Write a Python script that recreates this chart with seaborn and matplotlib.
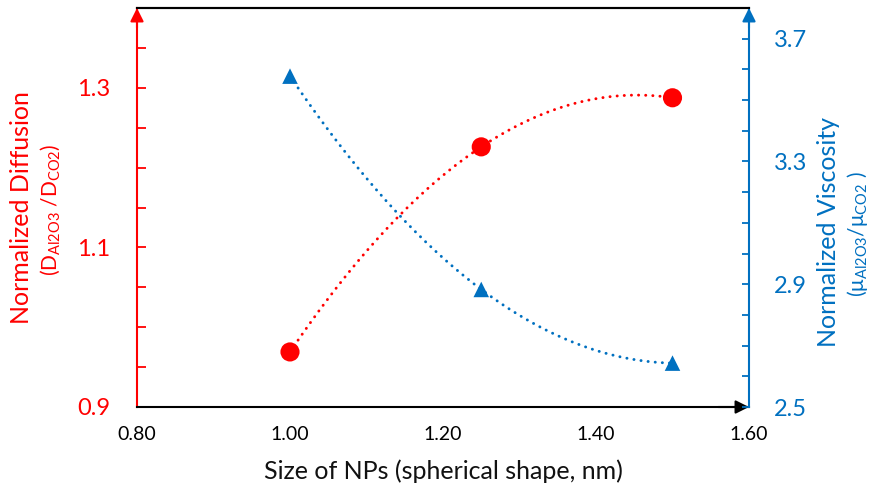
import numpy as np
import pandas as pd
import matplotlib
matplotlib.use("Agg")
import matplotlib.pyplot as plt
from matplotlib.ticker import FixedLocator, MultipleLocator
import seaborn as sns

# ---- data ----
size_nm = [1.00, 1.25, 1.50]
diffusion = [0.969, 1.226, 1.2875]
viscosity = [3.578, 2.883, 2.643]

x_ticks = [0.80, 1.00, 1.20, 1.40, 1.60]
left_ticks = [0.9, 1.1, 1.3]
right_ticks = [2.5, 2.9, 3.3, 3.7]

RED = "#FF0000"
BLUE = "#0070C0"

sns.set_theme(style="white")
plt.rcParams["font.family"] = ["Lato", "DejaVu Sans"]
plt.rcParams["mathtext.fontset"] = "custom"
plt.rcParams["mathtext.rm"] = "Lato"
plt.rcParams["mathtext.it"] = "Lato"
plt.rcParams["mathtext.bf"] = "Lato"


def smooth_curve(x, y, n=80):
    """Excel-like smoothed line: cubic Bezier segments (Catmull-Rom tangents)."""
    P = np.column_stack([x, y]).astype(float)
    first = 3 * P[0] - 3 * P[1] + P[2]
    last = 3 * P[-1] - 3 * P[-2] + P[-3]
    Q = np.vstack([first, P, last])
    t = np.linspace(0, 1, n)[:, None]
    segs = []
    for i in range(1, len(Q) - 2):
        p0, p1, p2, p3 = Q[i - 1], Q[i], Q[i + 1], Q[i + 2]
        c1 = p1 + (p2 - p0) / 6
        c2 = p2 - (p3 - p1) / 6
        b = ((1 - t) ** 3) * p1 + 3 * ((1 - t) ** 2) * t * c1 + 3 * (1 - t) * t ** 2 * c2 + t ** 3 * p2
        segs.append(b if i == 1 else b[1:])
    S = np.vstack(segs)
    return pd.DataFrame({"x": S[:, 0], "y": S[:, 1]})


fig = plt.figure(figsize=(8.72, 4.91), dpi=100)
ax = fig.add_axes([137 / 872, 1 - 407 / 491, 612 / 872, 399 / 491])
ax2 = ax.twinx()

dfd = smooth_curve(size_nm, diffusion)
dfv = smooth_curve(size_nm, viscosity)

dot_style = (0, (0.05, 2.4))
sns.lineplot(data=dfd, x="x", y="y", ax=ax, color=RED, lw=2.1, sort=False,
             linestyle=dot_style, dash_capstyle="round", zorder=2)
sns.scatterplot(x=size_nm, y=diffusion, ax=ax, color=RED, marker="o", s=190,
                edgecolor="none", zorder=3)

sns.lineplot(data=dfv, x="x", y="y", ax=ax2, color=BLUE, lw=2.1, sort=False,
             linestyle=dot_style, dash_capstyle="round", zorder=2)
sns.scatterplot(x=size_nm, y=viscosity, ax=ax2, color=BLUE, marker="^", s=125,
                edgecolor="none", zorder=3)

# limits
ax.set_xlim(0.8, 1.6)
ax.set_ylim(0.9, 1.4)
ax2.set_ylim(2.5, 3.8)

# ticks
ax.xaxis.set_major_locator(FixedLocator(x_ticks))
ax.set_xticklabels([f"{v:.2f}" for v in x_ticks])
ax.yaxis.set_major_locator(FixedLocator(left_ticks))
ax.set_yticklabels([f"{v:.1f}" for v in left_ticks])
ax.yaxis.set_minor_locator(MultipleLocator(0.05))
ax2.yaxis.set_major_locator(FixedLocator(right_ticks))
ax2.set_yticklabels([f"{v:.1f}" for v in right_ticks])
ax2.yaxis.set_minor_locator(MultipleLocator(0.1))

ax.tick_params(axis="x", which="major", direction="in", length=6, width=1.3,
               colors="black", labelsize=14, pad=14)
ax.tick_params(axis="y", which="both", direction="in", length=6.5, width=1.3,
               colors=RED, labelsize=17, pad=19, left=True, right=False)
ax2.tick_params(axis="y", which="both", direction="in", length=5, width=1.3,
                colors=BLUE, labelsize=17, pad=18, right=True, left=False)

ax.set_xlabel("")
ax.set_ylabel("")
ax2.set_ylabel("")

# spines
for a in (ax, ax2):
    for s in a.spines.values():
        s.set_linewidth(1.5)
ax.spines["left"].set_color(RED)
ax.spines["bottom"].set_color("black")
ax.spines["top"].set_color("black")
ax.spines["right"].set_visible(False)
ax2.spines["left"].set_visible(False)
ax2.spines["bottom"].set_visible(False)
ax2.spines["top"].set_color("black")
ax2.spines["right"].set_color(BLUE)

# arrows at axis ends
arrow_kw = dict(arrowstyle="-|>,head_length=0.4,head_width=0.2", lw=1.5,
                mutation_scale=20, shrinkA=0, shrinkB=0)
ax.annotate("", xy=(0, 1.0), xytext=(0, 0.95), xycoords="axes fraction",
            arrowprops=dict(color=RED, **arrow_kw), annotation_clip=False)
ax2.annotate("", xy=(1, 1.0), xytext=(1, 0.95), xycoords="axes fraction",
             arrowprops=dict(color=BLUE, **arrow_kw), annotation_clip=False)
ax.annotate("", xy=(1.0, 0), xytext=(0.95, 0), xycoords="axes fraction",
            arrowprops=dict(color="black", **arrow_kw), annotation_clip=False)

# axis titles
W, H = 872, 491
fig.text(443 / W, 1 - 471 / H, "Size of NPs (spherical shape, nm)", ha="center",
         va="center", fontsize=18, color="#111111")
fig.text(22 / W, 1 - 208 / H, "Normalized Diffusion", rotation=90, ha="center",
         va="center", fontsize=18, color=RED)
fig.text(50 / W, 1 - 210 / H, r"$\mathregular{(D_{Al2O3}\ /D_{CO2})}$", rotation=90,
         ha="center", va="center", fontsize=15, color=RED)
fig.text(828 / W, 1 - 232 / H, "Normalized Viscosity", rotation=90, ha="center",
         va="center", fontsize=18, color=BLUE)
fig.text(857 / W, 1 - 234 / H, r"$\mathregular{(\mu_{Al2O3}/\mu_{CO2}\ )}$", rotation=90,
         ha="center", va="center", fontsize=15, color=BLUE)

fig.savefig("out.png", dpi=100)
